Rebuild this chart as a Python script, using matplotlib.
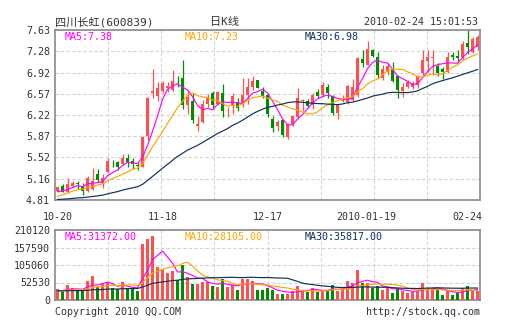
import numpy as np
import pandas as pd
import matplotlib
matplotlib.use("Agg")
import matplotlib.pyplot as plt
from matplotlib.transforms import ScaledTranslation

# ---- data -------------------------------------------------------------
stock_name = "四川长虹(600839)"
chart_title = "日K线"
timestamp = "2010-02-24 15:01:53"
date_labels = ["10-20", "11-18", "12-17", "2010-01-19", "02-24"]
date_label_idx = [0, 21, 42, 63, 84]

open_ = [4.96, 5.04, 4.95, 5.05, 5.09, 5.05, 4.96, 5.00, 5.24, 5.09,
         5.28, 5.43, 5.44, 5.41, 5.50, 5.46, 5.39, 5.36, 5.87, 6.58,
         6.54, 6.61, 6.66, 6.63, 6.79, 6.83, 6.39, 6.46, 6.04, 6.11,
         6.40, 6.58, 6.40, 6.58, 6.33, 6.39, 6.44, 6.40, 6.55, 6.69,
         6.80, 6.61, 6.55, 6.15, 6.04, 6.13, 5.86, 6.07, 6.18, 6.46,
         6.45, 6.39, 6.60, 6.55, 6.69, 6.54, 6.25, 6.45, 6.44, 6.47,
         6.55, 7.15, 7.05, 7.30, 7.18, 6.83, 6.94, 6.99, 6.87, 6.61,
         6.68, 6.68, 6.72, 6.91, 7.12, 7.17, 7.04, 6.99, 6.94, 7.22,
         7.20, 7.19, 7.41, 7.27, 7.35]
high = [5.05, 5.08, 5.17, 5.12, 5.12, 5.09, 5.20, 5.34, 5.32, 5.24,
        5.50, 5.47, 5.46, 5.58, 5.58, 5.50, 5.43, 5.87, 6.52, 6.98,
        6.77, 6.79, 6.77, 6.97, 6.86, 7.13, 6.63, 6.58, 6.20, 6.47,
        6.57, 6.61, 6.62, 6.73, 6.36, 6.58, 6.50, 6.83, 6.83, 6.87,
        6.80, 6.69, 6.58, 6.20, 6.14, 6.14, 6.08, 6.22, 6.66, 6.49,
        6.48, 6.58, 6.65, 6.77, 6.73, 6.56, 6.40, 6.56, 6.72, 6.81,
        7.19, 7.30, 7.45, 7.31, 7.26, 7.05, 7.08, 7.10, 6.88, 6.75,
        6.80, 6.78, 6.88, 7.29, 7.30, 7.30, 7.08, 7.02, 7.26, 7.26,
        7.30, 7.44, 7.63, 7.51, 7.55]
low = [4.94, 4.94, 4.93, 5.02, 5.00, 4.89, 4.94, 4.98, 5.11, 5.01,
       5.26, 5.35, 5.30, 5.39, 5.35, 5.32, 5.31, 5.35, 5.80, 6.51,
       6.45, 6.58, 6.60, 6.61, 6.69, 6.32, 6.24, 6.08, 5.96, 6.09,
       6.36, 6.33, 6.38, 6.18, 6.18, 6.24, 6.28, 6.36, 6.41, 6.63,
       6.67, 6.51, 6.19, 5.94, 5.96, 5.86, 5.83, 6.04, 6.16, 6.28,
       6.33, 6.32, 6.50, 6.52, 6.50, 6.22, 6.16, 6.44, 6.41, 6.45,
       6.52, 7.02, 7.05, 7.19, 6.84, 6.80, 6.88, 6.77, 6.51, 6.52,
       6.66, 6.65, 6.66, 6.88, 6.94, 6.88, 6.87, 6.81, 6.91, 7.14,
       7.10, 7.13, 7.24, 7.25, 7.30]
close = [5.03, 4.95, 5.07, 5.10, 5.08, 4.96, 5.17, 5.13, 5.14, 5.17,
         5.46, 5.42, 5.36, 5.50, 5.44, 5.40, 5.38, 5.85, 6.51, 6.61,
         6.66, 6.75, 6.70, 6.79, 6.78, 6.39, 6.52, 6.14, 6.07, 6.40,
         6.52, 6.39, 6.60, 6.29, 6.34, 6.54, 6.34, 6.55, 6.69, 6.79,
         6.67, 6.54, 6.24, 6.00, 6.11, 5.89, 6.07, 6.20, 6.50, 6.47,
         6.37, 6.55, 6.54, 6.71, 6.58, 6.26, 6.39, 6.47, 6.70, 6.68,
         7.17, 7.09, 7.31, 7.20, 6.89, 6.98, 7.04, 6.79, 6.63, 6.68,
         6.76, 6.75, 6.87, 7.13, 7.18, 7.18, 6.92, 6.94, 7.19, 7.18,
         7.16, 7.40, 7.35, 7.48, 7.52]
volume = [33000, 23000, 45000, 35000, 30000, 28000, 58000, 72000, 38000, 48000,
          52000, 36000, 32000, 54000, 34000, 34000, 28000, 168000, 182000, 192000,
          100000, 92000, 80000, 88000, 60000, 105000, 68000, 48000, 48000, 55000,
          55000, 42000, 38000, 62000, 38000, 45000, 30000, 62000, 62000, 57000,
          30000, 30000, 37000, 30000, 18000, 18000, 18000, 28000, 42000, 28000,
          25000, 35000, 25000, 30000, 30000, 46000, 27000, 33000, 57000, 50000,
          90000, 50000, 50000, 35000, 42000, 31000, 38000, 22000, 35000, 27000,
          22000, 24000, 27000, 50000, 37460, 32000, 32000, 14000, 30000, 16190,
          22000, 35000, 42000, 31000, 26860]

# sessions before the first visible day (feed the moving averages only)
prior_close = [4.88, 4.90, 4.86, 4.83, 4.85, 4.88, 4.84, 4.80, 4.82, 4.85,
               4.83, 4.80, 4.78, 4.82, 4.84, 4.86, 4.66, 4.60, 4.58, 4.63,
               4.70, 4.76, 4.80, 4.83, 4.86, 4.90, 4.96, 4.92, 4.94]
prior_volume = [25000, 30000, 22000, 28000, 35000, 26000, 24000, 31000, 27000, 22000,
                29000, 33000, 25000, 21000, 26000, 30000, 28000, 24000, 27000, 32000,
                23000, 26000, 29000, 25000, 31000, 27000, 24000, 28000, 30000]

price_ticks = [4.81, 5.16, 5.52, 5.87, 6.22, 6.57, 6.92, 7.28, 7.63]
volume_ticks = [0, 52530, 105060, 157590, 210120]
ma_windows = [5, 10, 30]

# ---- style ------------------------------------------------------------
RED = "#ff5050"
GREEN = "#008c00"
MA_COLORS = ["#ff00ff", "#ffa500", "#0d2f5e"]
TEXT = "#333333"
FRAME = "#8a8a8a"
GRID = "#d2d2d2"
MONO = ["DejaVu Sans Mono", "Noto Sans CJK SC"]
FS = 7.2

W, H = 505, 330
fig = plt.figure(figsize=(W / 100, H / 100), dpi=100)
fig.patch.set_facecolor("white")


def fx(px):
    return px / W


def fy(py):
    return 1 - py / H


ax = fig.add_axes([fx(55), fy(200), fx(480) - fx(55), fy(30) - fy(200)])
axv = fig.add_axes([fx(55), fy(300), fx(480) - fx(55), fy(230) - fy(300)])

n = len(close)
x = np.arange(n)
o = np.array(open_)
c = np.array(close)
hi = np.array(high)
lo = np.array(low)
v = np.array(volume, dtype=float)
colors = np.where(c >= o, RED, GREEN)

# moving averages over the full history
closes_all = pd.Series(prior_close + close)
vols_all = pd.Series(prior_volume + volume, dtype=float)
k0 = len(prior_close)
price_ma = [closes_all.rolling(w).mean().to_numpy()[k0:] for w in ma_windows]
vol_ma = [vols_all.rolling(w).mean().to_numpy()[k0:] for w in ma_windows]

# ---- price panel ------------------------------------------------------
ax.vlines(x, lo, hi, colors=colors, lw=0.9, zorder=2)
body_h = np.maximum(np.abs(c - o), 0.012)
ax.bar(x, body_h, bottom=np.minimum(o, c), width=0.78, color=colors,
       edgecolor="none", zorder=3)
for ma, col in zip(price_ma, MA_COLORS):
    ax.plot(x, ma, color=col, lw=0.85, zorder=4)

ax.set_xlim(-0.5, n - 0.5)
ax.set_ylim(price_ticks[0], price_ticks[-1])
ax.set_yticks(price_ticks)
ax.set_yticklabels([f"{t:.2f}" for t in price_ticks])
ax.set_xticks(date_label_idx)
ax.set_xticklabels(date_labels)
grid_x = np.linspace(-0.5, n - 0.5, 9)[1:-1]

for a in (ax, axv):
    a.set_xticks(grid_x, minor=True)
    a.grid(True, which="minor", axis="x", color=GRID, ls=(0, (3, 2)), lw=0.8)
    a.grid(True, which="major", axis="y", color=GRID, ls=(0, (3, 2)), lw=0.8)
    a.set_axisbelow(True)
    for s in a.spines.values():
        s.set_color(FRAME)
        s.set_linewidth(1.2)
    a.tick_params(which="both", length=0, labelsize=FS, labelcolor=TEXT)
    for lab in a.get_yticklabels():
        lab.set_family(MONO)

ax.tick_params(axis="y", pad=3.6)
ax.tick_params(axis="x", pad=9.0)
for lab in ax.get_xticklabels():
    lab.set_family(MONO)
# long date label sits a little left; the last one is pulled inside the edge
xlabs = ax.get_xticklabels()
xlabs[3].set_transform(xlabs[3].get_transform()
                       + ScaledTranslation(-6 / 100, 0, fig.dpi_scale_trans))
xlabs[-1].set_horizontalalignment("right")
xlabs[-1].set_transform(xlabs[-1].get_transform()
                        + ScaledTranslation(5 / 100, 0, fig.dpi_scale_trans))

# ---- volume panel -----------------------------------------------------
axv.bar(x, v, width=0.78, color=colors, edgecolor="none", zorder=3)
for ma, col in zip(vol_ma, MA_COLORS):
    axv.plot(x, ma, color=col, lw=0.85, zorder=4)
axv.set_xlim(-0.5, n - 0.5)
axv.set_ylim(volume_ticks[0], volume_ticks[-1])
axv.set_yticks(volume_ticks)
axv.set_yticklabels([str(t) for t in volume_ticks])
axv.set_xticks([])
axv.tick_params(axis="y", pad=3.6)

# ---- captions ---------------------------------------------------------
head_y = fy(22)
fig.text(fx(55), head_y, stock_name, ha="left", va="center", fontsize=8,
         color=TEXT, family=MONO)
fig.text(fx(224), head_y, chart_title, ha="center", va="center", fontsize=8,
         color=TEXT, family=MONO)
fig.text(fx(478), head_y, timestamp, ha="right", va="center", fontsize=FS,
         color=TEXT, family=MONO)

label_x = [65, 185, 305]
for w, ma, col, lx in zip(ma_windows, price_ma, MA_COLORS, label_x):
    fig.text(fx(lx), fy(37), f"MA{w}:{ma[-1]:.2f}", ha="left", va="center",
             fontsize=FS, color=col, family=MONO)
for w, ma, col, lx in zip(ma_windows, vol_ma, MA_COLORS, label_x):
    fig.text(fx(lx), fy(236.5), f"MA{w}:{ma[-1]:.2f}", ha="left", va="center",
             fontsize=FS, color=col, family=MONO)

fig.text(fx(55), fy(312), "Copyright 2010 QQ.COM", ha="left", va="center",
         fontsize=FS, color=TEXT, family=MONO)
fig.text(fx(480), fy(312), "http://stock.qq.com", ha="right", va="center",
         fontsize=FS, color=TEXT, family=MONO)

fig.savefig("out.png", dpi=100, facecolor="white")
